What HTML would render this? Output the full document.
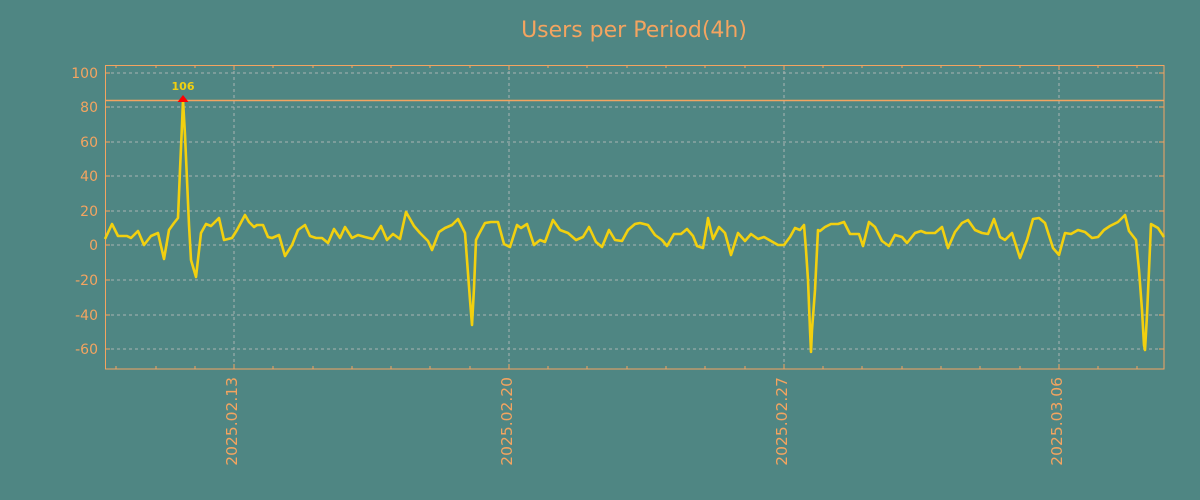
<!DOCTYPE html>
<html><head><meta charset="utf-8"><style>
html,body{margin:0;padding:0;background:#4f8683;}
svg{display:block;font-family:"DejaVu Sans","Liberation Sans",sans-serif;}
</style></head><body>
<svg width="1200" height="500" viewBox="0 0 1200 500" xmlns="http://www.w3.org/2000/svg">
<rect width="1200" height="500" fill="#4f8683"/>
<text x="634" y="37" text-anchor="middle" font-size="22" fill="#f4a460">Users per Period(4h)</text>
<g stroke="#c0c0c0" stroke-width="1" stroke-dasharray="3,3" opacity="0.8">
<line x1="105" x2="1164" y1="73" y2="73"/><line x1="105" x2="1164" y1="107" y2="107"/>
<line x1="105" x2="1164" y1="142" y2="142"/><line x1="105" x2="1164" y1="176" y2="176"/>
<line x1="105" x2="1164" y1="211" y2="211"/><line x1="105" x2="1164" y1="245" y2="245"/>
<line x1="105" x2="1164" y1="280" y2="280"/><line x1="105" x2="1164" y1="315" y2="315"/>
<line x1="105" x2="1164" y1="349" y2="349"/>
<line x1="234" x2="234" y1="65" y2="369"/><line x1="509" x2="509" y1="65" y2="369"/>
<line x1="784" x2="784" y1="65" y2="369"/><line x1="1059" x2="1059" y1="65" y2="369"/>
</g>
<rect x="105.5" y="65.5" width="1058.5" height="303.5" fill="none" stroke="#f4a460" stroke-width="1"/>
<line x1="105" x2="1164" y1="100.5" y2="100.5" stroke="#f4a460" stroke-width="1.5"/>
<g stroke="#f4a460" stroke-width="1">
<path d="M105 73h5M105 107h5M105 142h5M105 176h5M105 211h5M105 245h5M105 280h5M105 315h5M105 349h5"/>
<path d="M1164 73h-5M1164 107h-5M1164 142h-5M1164 176h-5M1164 211h-5M1164 245h-5M1164 280h-5M1164 315h-5M1164 349h-5"/>
<path d="M116 369v-3M156 369v-3M195 369v-3M234 369v-5M273 369v-3M313 369v-3M352 369v-3M391 369v-3M430 369v-3M470 369v-3M509 369v-5M548 369v-3M587 369v-3M627 369v-3M666 369v-3M705 369v-3M745 369v-3M784 369v-5M823 369v-3M862 369v-3M902 369v-3M941 369v-3M980 369v-3M1020 369v-3M1059 369v-5M1098 369v-3M1137 369v-3"/>
<path d="M116 65v3M156 65v3M195 65v3M234 65v5M273 65v3M313 65v3M352 65v3M391 65v3M430 65v3M470 65v3M509 65v5M548 65v3M587 65v3M627 65v3M666 65v3M705 65v3M745 65v3M784 65v5M823 65v3M862 65v3M902 65v3M941 65v3M980 65v3M1020 65v3M1059 65v5M1098 65v3M1137 65v3"/>
</g>
<g font-size="14" fill="#f4a460" text-anchor="end">
<text x="98" y="78">100</text><text x="98" y="112">80</text><text x="98" y="147">60</text>
<text x="98" y="181">40</text><text x="98" y="216">20</text><text x="98" y="250">0</text>
<text x="98" y="285">-20</text><text x="98" y="320">-40</text><text x="98" y="354">-60</text>
</g>
<g font-size="15.5" fill="#f4a460" text-anchor="end">
<text transform="translate(237,377) rotate(-90)">2025.02.13</text>
<text transform="translate(512,377) rotate(-90)">2025.02.20</text>
<text transform="translate(787,377) rotate(-90)">2025.02.27</text>
<text transform="translate(1062,377) rotate(-90)">2025.03.06</text>
</g>
<polyline fill="none" stroke="#f2d00f" stroke-width="2.6" stroke-linejoin="round" points="105,239 112,224 118,236 127,236 131,238 138,231 144,245 151,236 158,233 164,259 169,230 174,223 178,218 180,170 182,125 183,100 185,135 187,180 189,225 191,260 196,277 201,233 206,224 211,226 215,222 219,218 224,240 232,238 237,230 245,215 249,222 254,227 257,225 263,225 268,237 272,238 279,235 285,256 292,245 298,230 305,225 310,236 316,238 322,238 328,243 334,229 340,238 345,227 352,238 358,235 365,237 373,239 381,226 387,240 393,234 400,239 406,212 414,226 420,233 428,241 432,250 439,232 445,228 452,225 458,219 465,233 467,260 470,300 472,325 474,288 476,240 479,234 485,223 491,222 498,222 504,244 510,247 517,225 521,228 527,224 534,245 540,240 545,242 553,220 560,230 568,233 576,240 583,237 589,227 596,242 602,247 609,230 615,240 622,241 628,230 635,224 640,223 648,225 655,235 662,240 667,246 674,234 681,234 687,229 693,236 697,246 703,248 707,225 708,218 713,239 719,227 725,233 731,255 738,233 745,241 751,234 758,239 764,237 771,241 778,245 784,245 790,237 795,228 800,230 804,225 806,250 808,280 810,330 811,352 812,330 815,290 818,230 820,231 825,227 831,224 838,224 844,222 850,234 859,234 863,246 869,222 875,227 882,241 889,246 895,235 902,237 907,243 915,233 921,231 926,233 935,233 942,227 948,248 955,232 962,223 968,220 975,230 982,233 988,234 994,219 1000,237 1005,240 1012,233 1020,258 1027,240 1033,219 1039,218 1045,223 1053,248 1059,255 1065,233 1071,234 1078,230 1085,232 1092,238 1098,237 1104,230 1110,226 1118,222 1125,215 1129,231 1136,240 1139,270 1142,310 1144,345 1145,350 1147,315 1149,270 1151,224 1158,228 1164,237"/>
<path d="M177.5 102 L183 95 L188.5 102 Z" fill="#ff0000"/>
<text x="183" y="90" text-anchor="middle" font-size="11" font-weight="bold" fill="#f2d00f">106</text>
</svg>
</body></html>
